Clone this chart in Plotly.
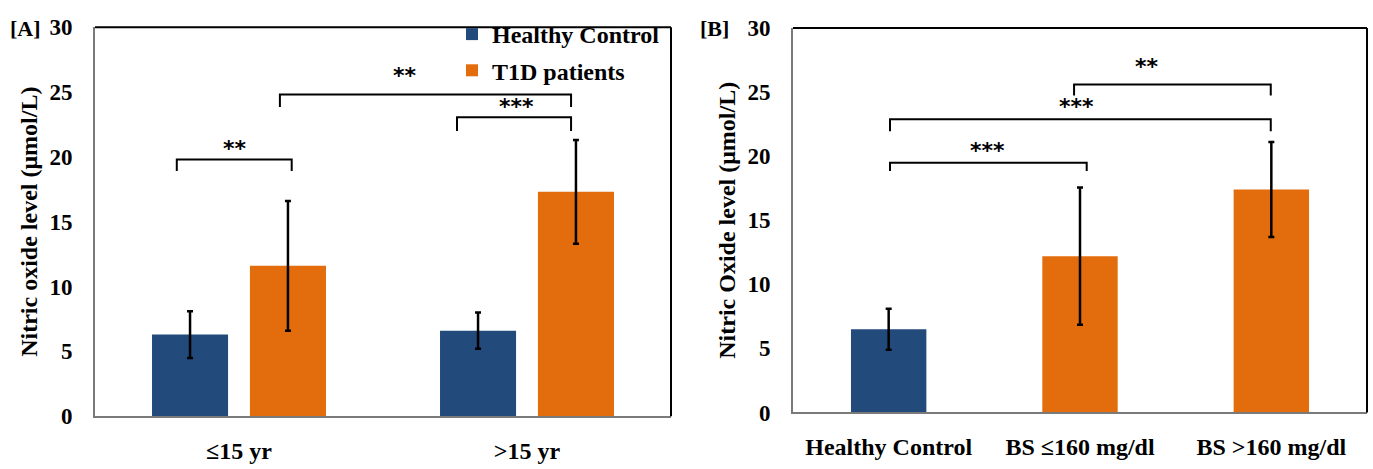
import plotly.graph_objects as go

# ---- data ----
age_groups = ["≤15 yr", ">15 yr"]
control_by_age = [6.3, 6.6]
control_by_age_sd = [1.8, 1.4]
t1d_by_age = [11.6, 17.3]
t1d_by_age_sd = [5.0, 4.0]

bs_groups = ["Healthy Control", "BS ≤160 mg/dl", "BS >160 mg/dl"]
no_by_bs = [6.5, 12.2, 17.4]
no_by_bs_sd = [1.6, 5.35, 3.7]

# significance brackets: (x_left, x_right, y_bar, y_end, label, label_x, label_y)
sig_age = [
    (-0.216, 0.183, 19.8, 18.9, "**", -0.014, 20.6),
    (0.142, 1.153, 24.8, 23.85, "**", 0.576, 26.2),
    (0.757, 1.153, 23.06, 22.0, "***", 0.965, 23.8),
]
sig_bs = [
    (0.007, 1.035, 19.48, 18.84, "***", 0.518, 20.4),
    (0.007, 1.997, 22.88, 21.95, "***", 0.983, 23.8),
    (0.969, 1.997, 25.6, 24.73, "**", 1.35, 26.95),
]

BLUE = "#224A7B"
ORANGE = "#E36C0C"
W, H = 1373, 469
SERIF = "Liberation Serif"


def serif(size):
    return dict(family=SERIF, size=size, color="black", weight="bold")


fig = go.Figure()

err_style = dict(type="data", color="black", thickness=2.5, width=3, visible=True)

fig.add_trace(go.Bar(
    x=[0, 1], y=control_by_age, name="Healthy Control",
    marker=dict(color=BLUE, line=dict(width=0)),
    width=0.264, offset=-0.302, legendgroup="a",
    error_y=dict(array=control_by_age_sd, **err_style),
    xaxis="x", yaxis="y",
))
fig.add_trace(go.Bar(
    x=[0, 1], y=t1d_by_age, name="T1D patients",
    marker=dict(color=ORANGE, line=dict(width=0)),
    width=0.264, offset=0.038, legendgroup="b",
    error_y=dict(array=t1d_by_age_sd, **err_style),
    xaxis="x", yaxis="y",
))
fig.add_trace(go.Bar(
    x=[0, 1, 2], y=no_by_bs, showlegend=False,
    marker=dict(color=[BLUE, ORANGE, ORANGE], line=dict(width=0)),
    width=0.394,
    error_y=dict(array=no_by_bs_sd, **err_style),
    xaxis="x2", yaxis="y2",
))

shapes = []
annotations = []


def add_brackets(items, xref, yref):
    for x0, x1, yb, ye, lab, lx, ly in items:
        shapes.append(dict(
            type="path", xref=xref, yref=yref,
            path=f"M {x0},{ye} L {x0},{yb} L {x1},{yb} L {x1},{ye}",
            line=dict(color="black", width=2),
        ))
        annotations.append(dict(
            x=lx, y=ly, xref=xref, yref=yref, text=lab, showarrow=False,
            font=dict(family="DejaVu Sans", size=22, color="black", weight="bold"),
            xanchor="center", yanchor="middle", yshift=1,
        ))


add_brackets(sig_age, "x", "y")
add_brackets(sig_bs, "x2", "y2")

# top and right frame edges of each panel
for xr, yr in (("x domain", "y domain"), ("x2 domain", "y2 domain")):
    shapes.append(dict(type="line", xref=xr, yref=yr, x0=0, x1=1, y0=1, y1=1,
                       line=dict(color="black", width=2)))
    shapes.append(dict(type="line", xref=xr, yref=yr, x0=1, x1=1, y0=0, y1=1,
                       line=dict(color="black", width=2)))

# panel tags
annotations.append(dict(x=8 / W, y=1 - 17 / H, xref="paper", yref="paper", text="[A]",
                        showarrow=False, xanchor="left", yanchor="middle", font=serif(22)))
annotations.append(dict(x=698 / W, y=1 - 17 / H, xref="paper", yref="paper", text="[B]",
                        showarrow=False, xanchor="left", yanchor="middle", font=serif(22)))

yaxis_common = dict(
    range=[0, 30], dtick=5, showgrid=False, zeroline=False,
    showline=True, linecolor="#7a7a7a", linewidth=2,
    ticks="", tickfont=serif(23), ticklabelstandoff=16,
)
xaxis_common = dict(
    showgrid=False, zeroline=False, showline=True, linecolor="#7a7a7a", linewidth=2,
    ticks="", tickfont=serif(24), ticklabelstandoff=12,
)

fig.update_layout(
    width=W, height=H,
    margin=dict(l=0, r=0, t=0, b=0),
    paper_bgcolor="white", plot_bgcolor="white",
    barmode="overlay",
    font=dict(family=SERIF, color="black"),
    xaxis=dict(domain=[95 / W, 671 / W], range=[-0.5, 1.5],
               tickvals=[0, 1], ticktext=age_groups, anchor="y", **xaxis_common),
    yaxis=dict(domain=[(H - 427) / H, (H - 16) / H], anchor="x",
               title=dict(text="Nitric oxide level (μmol/L)", standoff=5, font=serif(24)),
               **yaxis_common),
    xaxis2=dict(domain=[793 / W, 1367 / W], range=[-0.5, 2.5],
                tickvals=[0, 1, 2], ticktext=bs_groups, anchor="y2", **xaxis_common),
    yaxis2=dict(domain=[(H - 423) / H, (H - 17) / H], anchor="x2",
                title=dict(text="Nitric Oxide level (μmol/L)", standoff=5, font=serif(24)),
                **yaxis_common),
    legend=dict(x=452 / W, y=1.0, xanchor="left", yanchor="top",
                bgcolor="rgba(0,0,0,0)", tracegroupgap=2, itemsizing="constant",
                font=serif(24)),
    shapes=shapes,
    annotations=annotations,
)

fig.write_html("out.html")
